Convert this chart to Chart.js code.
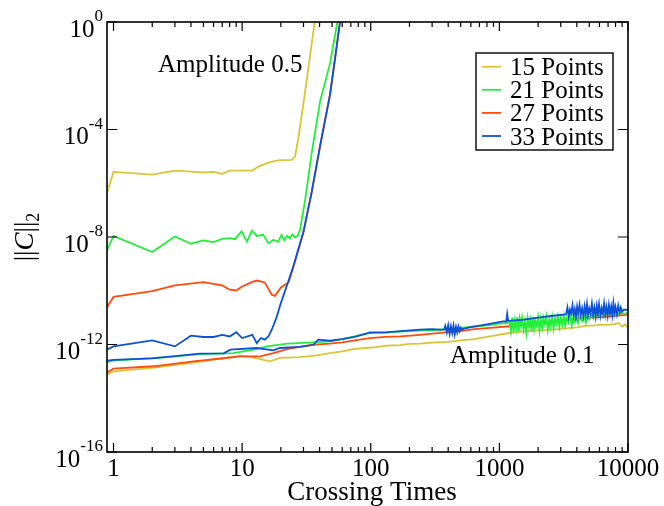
<!DOCTYPE html>
<html lang="en">
<head>
<meta charset="UTF-8" />
<title>Constraint norm vs crossing times</title>
<script src="https://cdn.jsdelivr.net/npm/chart.js"></script>
<style>
  html, body { margin: 0; padding: 0; background: #fff; }
</style>
</head>
<body>
<canvas id="chart" width="664" height="506"></canvas>
<script>
// series labels and colours
const resolutions = ['15 Points', '21 Points', '27 Points', '33 Points'];
const colors = ['#d9c535', '#22ee3a', '#ff4b0c', '#0c52d8'];
// drawing order: lower is drawn later (on top)
const drawOrder = [4, 2, 3, 1];

// ticks
const xMajorTicks = [1, 10, 100, 1000, 10000];
const yMajorTicks = [1, 1e-4, 1e-8, 1e-12, 1e-16];
const yTickExponents = ['0', '-4', '-8', '-12', '-16'];

// Amplitude 0.5 runs: crossing times and log10 of the constraint norm
const t15_a05 = [0.89, 1.0, 2, 3, 4, 5, 6, 7, 8, 12, 13.4, 15.6, 17.5, 19.7, 24.3, 25.8, 27.5, 31.8, 36.8, 40];
const log15_a05 = [-6.36, -5.58, -5.68, -5.53, -5.57, -5.6, -5.58, -5.65, -5.53, -5.53, -5.38, -5.25, -5.19, -5.14, -5.13, -5.0, -4.26, -2.16, 0.07, 1.2];

const t21_a05 = [0.89, 1.0, 2, 3, 4, 5, 6, 7, 8, 8.8, 9.9, 10.9, 11.9, 13, 14.6, 16, 17.5, 19, 20.3, 21.2, 22.3, 23.5, 24.6, 25.8, 27, 28.2, 30.9, 34.8, 40.4, 48.2, 55, 60];
const log21_a05 = [-8.5, -7.96, -8.56, -7.98, -8.25, -8.13, -8.19, -8.07, -8.04, -8.08, -7.79, -8.17, -7.76, -7.96, -7.92, -8.23, -8.1, -8.18, -7.92, -8.12, -7.95, -8.06, -7.9, -8.02, -7.96, -7.73, -6.62, -4.85, -2.95, -1.55, 0.0, 1.0];

const t27_a05 = [0.89, 1.0, 2, 3, 5, 7, 8, 9, 10, 12, 13, 15, 17, 18, 20, 23, 25, 30, 34.8, 40.4, 48.2, 52.6, 57.6, 63];
const log27_a05 = [-10.61, -10.23, -10.01, -9.80, -9.68, -9.80, -9.96, -9.99, -9.84, -9.67, -9.62, -9.69, -10.15, -10.19, -9.88, -9.69, -9.12, -7.82, -6.32, -4.62, -2.72, -1.42, -0.02, 0.98];

const t33_a05 = [0.89, 1, 2, 3, 4, 5, 6, 7, 8, 9, 10, 12, 13, 14, 15, 16, 17, 18.5, 20, 22.5, 25, 30, 34.8, 40.4, 48.2, 52.6, 57.6, 63];
const log33_a05 = [-12.19, -12.07, -11.85, -12.07, -11.67, -11.72, -11.72, -11.64, -11.70, -11.54, -11.76, -11.64, -11.95, -11.76, -11.82, -11.70, -11.45, -11.0, -10.46, -9.75, -9.10, -7.8, -6.3, -4.6, -2.7, -1.4, 0.0, 1.0];

// Amplitude 0.1 runs
const t15_a01 = [0.89, 1, 2, 4.2, 6.35, 9.65, 12, 13.8, 16.5, 19.7, 28, 35.8, 48, 60, 73, 90, 110, 134, 170, 200, 241, 300, 400, 500, 640, 800, 1100, 1400, 2000, 2600, 3400, 4000, 4760, 5400, 6120, 7000, 7770, 8500, 9000, 9500, 10000];
const log15_a01 = [-13.12, -13.0, -12.87, -12.67, -12.54, -12.42, -12.48, -12.54, -12.63, -12.5, -12.47, -12.42, -12.32, -12.26, -12.17, -12.13, -12.1, -12.04, -12.02, -11.98, -11.97, -11.93, -11.9, -11.85, -11.8, -11.72, -11.6, -11.53, -11.48, -11.45, -11.39, -11.36, -11.3, -11.3, -11.26, -11.27, -11.24, -11.2, -11.34, -11.25, -11.37];

const t21_a01 = [0.89, 1, 2.6, 4.7, 8.5, 12.3, 15.6, 22.3, 35.8, 48, 60, 75, 98.6, 130, 170, 241, 330, 420, 640, 850, 1000, 1150,
  1200, 1230, 1260, 1290, 1320, 1350, 1380, 1410, 1440, 1470,
  1500, 1540, 1580, 1620, 1660, 1700, 1740, 1780, 1820, 1860,
  1900, 1950, 2000, 2050, 2100, 2150, 2200, 2260, 2320, 2380,
  2440, 2500, 2570, 2640, 2710, 2780, 2850, 2930, 3010, 3090,
  3170, 3250, 3350, 3450, 3550, 3650, 3750, 3850, 3950, 4100,
  4250, 4400, 4550, 4700, 4850, 5000, 5200, 5400,
  5700, 6000, 6300, 6600, 7000, 7400, 7800, 8300, 8800, 9400, 10000];
const log21_a01 = [-12.66, -12.6, -12.47, -12.36, -12.32, -12.19, -12.07, -11.97, -11.92, -11.88, -11.8, -11.7, -11.58, -11.56, -11.52, -11.48, -11.46, -11.42, -11.33, -11.28, -11.22, -11.2,
  -11.15, -11.5, -11.0, -11.55, -11.1, -11.4, -10.98, -11.52, -11.05, -11.3,
  -11.0, -11.45, -11.12, -11.56, -11.02, -11.35, -11.08, -11.5, -10.97, -11.42,
  -11.1, -11.3, -10.98, -11.48, -11.05, -11.38, -11.0, -11.25, -10.95, -11.45,
  -11.06, -11.33, -10.96, -11.4, -11.02, -11.22, -10.95, -11.35, -11.0, -11.25,
  -10.93, -11.3, -11.0, -11.18, -10.92, -11.28, -10.98, -11.15, -10.9, -11.2,
  -10.95, -11.12, -10.9, -11.18, -10.92, -11.05, -10.88, -11.0,
  -10.88, -10.95, -10.84, -10.93, -10.82, -10.9, -10.8, -10.88, -10.82, -10.86, -10.81];

const t27_a01 = [0.89, 1, 2.05, 4.18, 6.35, 9.65, 13.8, 17.5, 22.3, 28, 35.8, 48, 60, 75, 98.6, 130, 170, 241, 346, 500, 640, 850, 1140, 1600, 2620, 3710, 5000, 6340, 8000, 9700, 10000];
const log27_a01 = [-13.04, -12.9, -12.81, -12.63, -12.54, -12.44, -12.44, -12.32, -12.17, -12.09, -12.01, -11.97, -11.92, -11.85, -11.76, -11.72, -11.7, -11.64, -11.57, -11.5, -11.43, -11.38, -11.33, -11.27, -11.18, -11.05, -11.0, -10.98, -10.93, -10.9, -10.88];

const t33_a01 = [0.89, 1, 2, 4.7, 7.2, 8.1, 13, 17.5, 19.7, 28, 35.8, 39, 48, 60, 75, 98.6, 130, 170, 241, 300, 350,
  370, 380, 390, 400, 410, 420, 430, 440, 450, 460, 470, 480, 490, 500, 510, 525,
  600, 800, 1070, 1130, 1150, 1170, 1500, 2000, 2620,
  3300, 3380, 3460, 3540, 3620, 3700, 3780, 3860, 3940, 4020,
  4100, 4200, 4300, 4400, 4500, 4600, 4700, 4800, 4900, 5000,
  5120, 5240, 5360, 5480, 5600, 5720, 5840, 5960, 6100, 6240,
  6380, 6520, 6660, 6800, 6950, 7100, 7250, 7400, 7550, 7700,
  7850, 8000, 8200, 8400, 8600, 8800, 9000, 9300, 9600, 10000];
const log33_a01 = [-12.6, -12.57, -12.52, -12.34, -12.33, -12.19, -12.13, -12.22, -12.13, -12.09, -12.01, -11.82, -11.86, -11.8, -11.72, -11.55, -11.55, -11.5, -11.45, -11.43, -11.45,
  -11.45, -11.3, -11.55, -11.28, -11.6, -11.32, -11.58, -11.3, -11.62, -11.35, -11.55, -11.33, -11.5, -11.38, -11.45, -11.42,
  -11.35, -11.25, -11.14, -11.14, -10.86, -11.12, -11.08, -11.0, -10.93,
  -10.88, -10.62, -10.95, -10.7, -10.85, -10.55, -10.92, -10.68, -10.98, -10.6,
  -10.86, -10.52, -10.9, -10.65, -10.95, -10.58, -10.88, -10.5, -10.92, -10.66,
  -10.85, -10.48, -10.9, -10.62, -10.96, -10.56, -10.86, -10.5, -10.92, -10.64,
  -10.85, -10.47, -10.88, -10.6, -10.93, -10.53, -10.84, -10.58, -10.9, -10.46,
  -10.82, -10.6, -10.88, -10.55, -10.8, -10.62, -10.78, -10.7, -10.72, -10.68];

const amp05Times = [t15_a05, t21_a05, t27_a05, t33_a05];
const amp05Logs = [log15_a05, log21_a05, log27_a05, log33_a05];
const amp01Times = [t15_a01, t21_a01, t27_a01, t33_a01];
const amp01Logs = [log15_a01, log21_a01, log27_a01, log33_a01];

function toPoints(times, logs) {
  return times.map((t, i) => ({ x: t, y: Math.pow(10, logs[i]) }));
}

const datasets = [];
resolutions.forEach((label, k) => {
  [toPoints(amp05Times[k], amp05Logs[k]), toPoints(amp01Times[k], amp01Logs[k])].forEach(data => {
    datasets.push({
      label,
      data,
      borderColor: colors[k],
      borderWidth: 1.8,
      pointRadius: 0,
      fill: false,
      tension: 0,
      order: drawOrder[k]
    });
  });
});

const SERIF = "'Liberation Serif', 'DejaVu Serif', serif";

const decorations = {
  id: 'decorations',
  afterDatasetsDraw(chart) {
    const { ctx, chartArea: a, scales: { x, y } } = chart;
    ctx.save();
    ctx.strokeStyle = '#000';
    ctx.fillStyle = '#000';
    ctx.lineWidth = 1.6;
    ctx.strokeRect(a.left, a.top, a.right - a.left, a.bottom - a.top);

    // x ticks, top and bottom, pointing inwards
    ctx.lineWidth = 1.2;
    ctx.beginPath();
    xMajorTicks.forEach((d, i) => {
      const px = x.getPixelForValue(d);
      ctx.moveTo(px, a.bottom); ctx.lineTo(px, a.bottom - 9);
      ctx.moveTo(px, a.top); ctx.lineTo(px, a.top + 9);
      if (i < xMajorTicks.length - 1) {
        for (let m = 2; m <= 9; m++) {
          const mx = x.getPixelForValue(d * m);
          ctx.moveTo(mx, a.bottom); ctx.lineTo(mx, a.bottom - 5);
          ctx.moveTo(mx, a.top); ctx.lineTo(mx, a.top + 5);
        }
      }
    });
    yMajorTicks.forEach(v => {
      const py = y.getPixelForValue(v);
      ctx.moveTo(a.left, py); ctx.lineTo(a.left + 10, py);
      ctx.moveTo(a.right, py); ctx.lineTo(a.right - 10, py);
    });
    ctx.stroke();

    // x tick labels
    ctx.font = '25px ' + SERIF;
    ctx.textAlign = 'center';
    ctx.textBaseline = 'alphabetic';
    xMajorTicks.forEach(v => ctx.fillText(String(v), x.getPixelForValue(v), 476));

    // y tick labels with superscript exponents
    yMajorTicks.forEach((v, i) => {
      const py = y.getPixelForValue(v);
      ctx.textAlign = 'right';
      ctx.font = '17px ' + SERIF;
      const ew = ctx.measureText(yTickExponents[i]).width;
      ctx.fillText(yTickExponents[i], 103, py - 1);
      ctx.font = '25px ' + SERIF;
      ctx.fillText('10', 103 - ew, py + 14.5);
    });

    // axis titles
    ctx.font = '27px ' + SERIF;
    ctx.textAlign = 'center';
    ctx.fillText('Crossing Times', 372, 500);

    ctx.save();
    ctx.translate(33, (a.top + a.bottom) / 2);
    ctx.rotate(-Math.PI / 2);
    const parts = [
      { t: '||', f: '27px ' + SERIF, dy: 0 },
      { t: 'C', f: 'italic 27px ' + SERIF, dy: 0 },
      { t: '||', f: '27px ' + SERIF, dy: 0 },
      { t: '2', f: '18px ' + SERIF, dy: 6 }
    ];
    let total = 0;
    parts.forEach(p => { ctx.font = p.f; p.w = ctx.measureText(p.t).width; total += p.w; });
    let cx = -total / 2;
    ctx.textAlign = 'left';
    parts.forEach(p => { ctx.font = p.f; ctx.fillText(p.t, cx, p.dy); cx += p.w; });
    ctx.restore();

    // annotations
    ctx.font = '25px ' + SERIF;
    ctx.textAlign = 'left';
    ctx.fillText('Amplitude 0.5', 158, 72);
    ctx.fillText('Amplitude 0.1', 450, 363);

    // legend
    const lx = 476, ly = 53, lw = 137, lh = 97;
    ctx.fillStyle = '#fff';
    ctx.fillRect(lx, ly, lw, lh);
    ctx.strokeStyle = '#000';
    ctx.lineWidth = 1.4;
    ctx.strokeRect(lx, ly, lw, lh);
    ctx.font = '25px ' + SERIF;
    resolutions.forEach((label, k) => {
      const ry = 66.7 + k * 23.1;
      ctx.strokeStyle = colors[k];
      ctx.lineWidth = 1.8;
      ctx.beginPath();
      ctx.moveTo(482, ry); ctx.lineTo(501, ry);
      ctx.stroke();
      ctx.fillStyle = '#000';
      ctx.fillText(label, 510, ry + 8.5);
    });
    ctx.restore();
  }
};

new Chart(document.getElementById('chart'), {
  type: 'line',
  data: { datasets },
  options: {
    responsive: false,
    animation: false,
    layout: { padding: { left: 107, right: 36, top: 22, bottom: 54 } },
    scales: {
      x: { type: 'logarithmic', min: 0.89, max: 10000, display: false },
      y: { type: 'logarithmic', min: 1e-16, max: 1, display: false }
    },
    plugins: {
      legend: { display: false },
      tooltip: { enabled: false }
    }
  },
  plugins: [decorations]
});
</script>
</body>
</html>
